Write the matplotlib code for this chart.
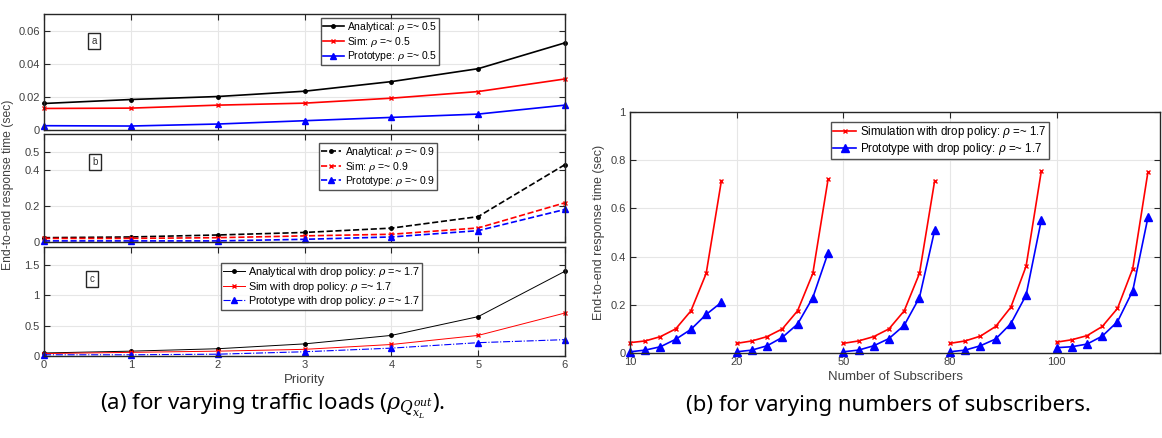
import matplotlib
matplotlib.use("Agg")
import matplotlib.pyplot as plt

plt.rcParams['font.family'] = ['Liberation Sans', 'DejaVu Sans']
plt.rcParams['mathtext.fontset'] = 'dejavuserif'

# ----- data: (a) varying traffic loads -----
priority = [0, 1, 2, 3, 4, 5, 6]

a_analytical = [0.016, 0.0184, 0.0202, 0.0234, 0.0292, 0.037, 0.0526]
a_sim = [0.013, 0.0132, 0.015, 0.0162, 0.0192, 0.0232, 0.0308]
a_proto = [0.0026, 0.0024, 0.0036, 0.0056, 0.0076, 0.0096, 0.015]

b_analytical = [0.024, 0.028, 0.039, 0.053, 0.077, 0.141, 0.43]
b_sim = [0.02, 0.02, 0.024, 0.034, 0.043, 0.078, 0.218]
b_proto = [0.006, 0.006, 0.006, 0.015, 0.028, 0.063, 0.181]

c_analytical = [0.05, 0.08, 0.12, 0.2, 0.34, 0.65, 1.4]
c_sim = [0.04, 0.06, 0.08, 0.11, 0.19, 0.34, 0.71]
c_proto = [0.02, 0.02, 0.03, 0.07, 0.13, 0.22, 0.27]

# ----- data: (b) varying numbers of subscribers -----
subscriber_labels = ["10", "20", "50", "80", "100"]
points_per_group = 7
sim_drop = [
    [0.043, 0.05, 0.068, 0.10, 0.175, 0.33, 0.715],
    [0.04, 0.05, 0.068, 0.10, 0.175, 0.33, 0.72],
    [0.04, 0.05, 0.068, 0.10, 0.175, 0.33, 0.715],
    [0.04, 0.05, 0.07, 0.11, 0.19, 0.36, 0.755],
    [0.045, 0.055, 0.072, 0.11, 0.185, 0.35, 0.752],
]
proto_drop = [
    [0.005, 0.012, 0.026, 0.057, 0.098, 0.16, 0.21],
    [0.005, 0.012, 0.03, 0.065, 0.12, 0.23, 0.415],
    [0.005, 0.012, 0.03, 0.06, 0.115, 0.23, 0.51],
    [0.005, 0.012, 0.03, 0.058, 0.122, 0.24, 0.552],
    [0.022, 0.026, 0.037, 0.07, 0.13, 0.258, 0.563],
]

W, H = 1162, 438
TXT = '#404040'


def rect(l, t, r, b):
    return [l / W, 1 - b / H, (r - l) / W, (b - t) / H]


def style(ax):
    ax.grid(True, color='#e6e6e6', linewidth=0.8)
    ax.set_axisbelow(True)
    ax.tick_params(direction='in', length=4, width=0.8, top=True, right=True,
                   labelsize=8, colors='#262626', labelcolor=TXT, pad=3)
    for sp in ax.spines.values():
        sp.set_color('#262626')
        sp.set_linewidth(1.0)


def tag(ax, x, y, s):
    ax.text(x, y, s, transform=ax.transAxes, fontsize=7, ha='center', va='center',
            color='#333333',
            bbox=dict(boxstyle='square,pad=0.35', fc='white', ec='#262626', lw=1.0))


def legend(ax, anchor, size):
    leg = ax.legend(loc='upper right', bbox_to_anchor=anchor, fontsize=size,
                    frameon=True, fancybox=False, edgecolor='#262626',
                    borderpad=0.2, labelspacing=0.05, handlelength=2.0,
                    handletextpad=0.3, borderaxespad=0)
    leg.get_frame().set_linewidth(1.0)
    return leg


fig = plt.figure(figsize=(W / 100, H / 100), dpi=100)

ax_a = fig.add_axes(rect(44, 14, 565, 130))
ax_b = fig.add_axes(rect(44, 134, 565, 242))
ax_c = fig.add_axes(rect(44, 247, 565, 356))
ax_r = fig.add_axes(rect(630, 112, 1160, 353))

# ----- panel a -----
ax_a.plot(priority, a_analytical, '-', color='black', marker='.', ms=5, lw=1.2,
          clip_on=False, label=r'Analytical: $\rho$ =~ 0.5')
ax_a.plot(priority, a_sim, '-', color='red', marker='x', ms=3, mew=1, lw=1.2,
          clip_on=False, label=r'Sim: $\rho$ =~ 0.5')
ax_a.plot(priority, a_proto, '-', color='blue', marker='^', ms=5, lw=1.2,
          clip_on=False, label=r'Prototype: $\rho$ =~ 0.5')
ax_a.set_ylim(0, 0.07)
ax_a.set_yticks([0, 0.02, 0.04, 0.06])
ax_a.set_yticklabels(['0', '0.02', '0.04', '0.06'])
legend(ax_a, (0.758, 0.965), 7.5)
tag(ax_a, 0.096, 0.767, 'a')

# ----- panel b -----
ax_b.plot(priority, b_analytical, '--', color='black', marker='.', ms=5, lw=1.2,
          clip_on=False, label=r'Analytical: $\rho$ =~ 0.9')
ax_b.plot(priority, b_sim, '--', color='red', marker='x', ms=3, mew=1, lw=1.2,
          clip_on=False, label=r'Sim: $\rho$ =~ 0.9')
ax_b.plot(priority, b_proto, '--', color='blue', marker='^', ms=5, lw=1.2,
          clip_on=False, label=r'Prototype: $\rho$ =~ 0.9')
ax_b.set_ylim(0, 0.6)
ax_b.set_yticks([0, 0.2, 0.4, 0.5])
ax_b.set_yticklabels(['0', '0.2', '0.4', '0.5'])
legend(ax_b, (0.754, 0.917), 7.5)
tag(ax_b, 0.098, 0.74, 'b')

# ----- panel c -----
ax_c.plot(priority, c_analytical, '-', color='black', marker='.', ms=5, lw=0.7,
          clip_on=False, label=r'Analytical with drop policy: $\rho$ =~ 1.7')
ax_c.plot(priority, c_sim, '-', color='red', marker='x', ms=3, mew=1, lw=0.7,
          clip_on=False, label=r'Sim with drop policy: $\rho$ =~ 1.7')
ax_c.plot(priority, c_proto, '-.', color='blue', marker='^', ms=5, lw=0.8,
          clip_on=False, label=r'Prototype with drop policy: $\rho$ =~ 1.7')
ax_c.set_ylim(0, 1.8)
ax_c.set_yticks([0, 0.5, 1, 1.5])
ax_c.set_yticklabels(['0', '0.5', '1', '1.5'])
legend(ax_c, (0.726, 0.853), 7.8)
tag(ax_c, 0.092, 0.706, 'c')

for ax in (ax_a, ax_b, ax_c):
    ax.set_xlim(0, 6)
    ax.set_xticks(priority)
    style(ax)
ax_a.tick_params(labelbottom=False)
ax_b.tick_params(labelbottom=False)
ax_c.set_xlabel('Priority', fontsize=9.5, color=TXT, labelpad=3)

fig.text(8 / W, 1 - 185 / H, 'End-to-end response time (sec)', rotation=90,
         fontsize=8.7, color=TXT, ha='center', va='center')

# ----- right panel -----
for g in range(len(subscriber_labels)):
    xs = [g + j / points_per_group for j in range(points_per_group)]
    ax_r.plot(xs, sim_drop[g], '-', color='red', marker='x', ms=3, mew=1, lw=1.2,
              clip_on=False,
              label=r'Simulation with drop policy: $\rho$ =~ 1.7' if g == 0 else None)
    ax_r.plot(xs, proto_drop[g], '-', color='blue', marker='^', ms=5.5, lw=1.2,
              clip_on=False,
              label=r'Prototype with drop policy: $\rho$ =~ 1.7' if g == 0 else None)
ax_r.set_xlim(0, 4.97)
ax_r.set_xticks(range(len(subscriber_labels)))
ax_r.set_xticklabels(subscriber_labels)
ax_r.set_ylim(0, 1)
ax_r.set_yticks([0, 0.2, 0.4, 0.6, 0.8, 1])
ax_r.set_yticklabels(['0', '0.2', '0.4', '0.6', '0.8', '1'])
style(ax_r)
ax_r.set_xlabel('Number of Subscribers', fontsize=9.5, color=TXT, labelpad=3)
ax_r.set_ylabel('End-to-end response time (sec)', fontsize=9, color=TXT, labelpad=4)
legend(ax_r, (0.79, 0.958), 8.3)

# ----- captions -----
cap_font = ['Noto Sans', 'DejaVu Sans']
fig.text(273 / W, 1 - 406 / H, r'(a) for varying traffic loads ($\rho_{Q^{out}_{x_L}}$).',
         fontsize=16, ha='center', va='center', family=cap_font)
fig.text(888 / W, 1 - 406 / H, '(b) for varying numbers of subscribers.',
         fontsize=16, ha='center', va='center', family=cap_font)

fig.savefig('out.png', dpi=100)
